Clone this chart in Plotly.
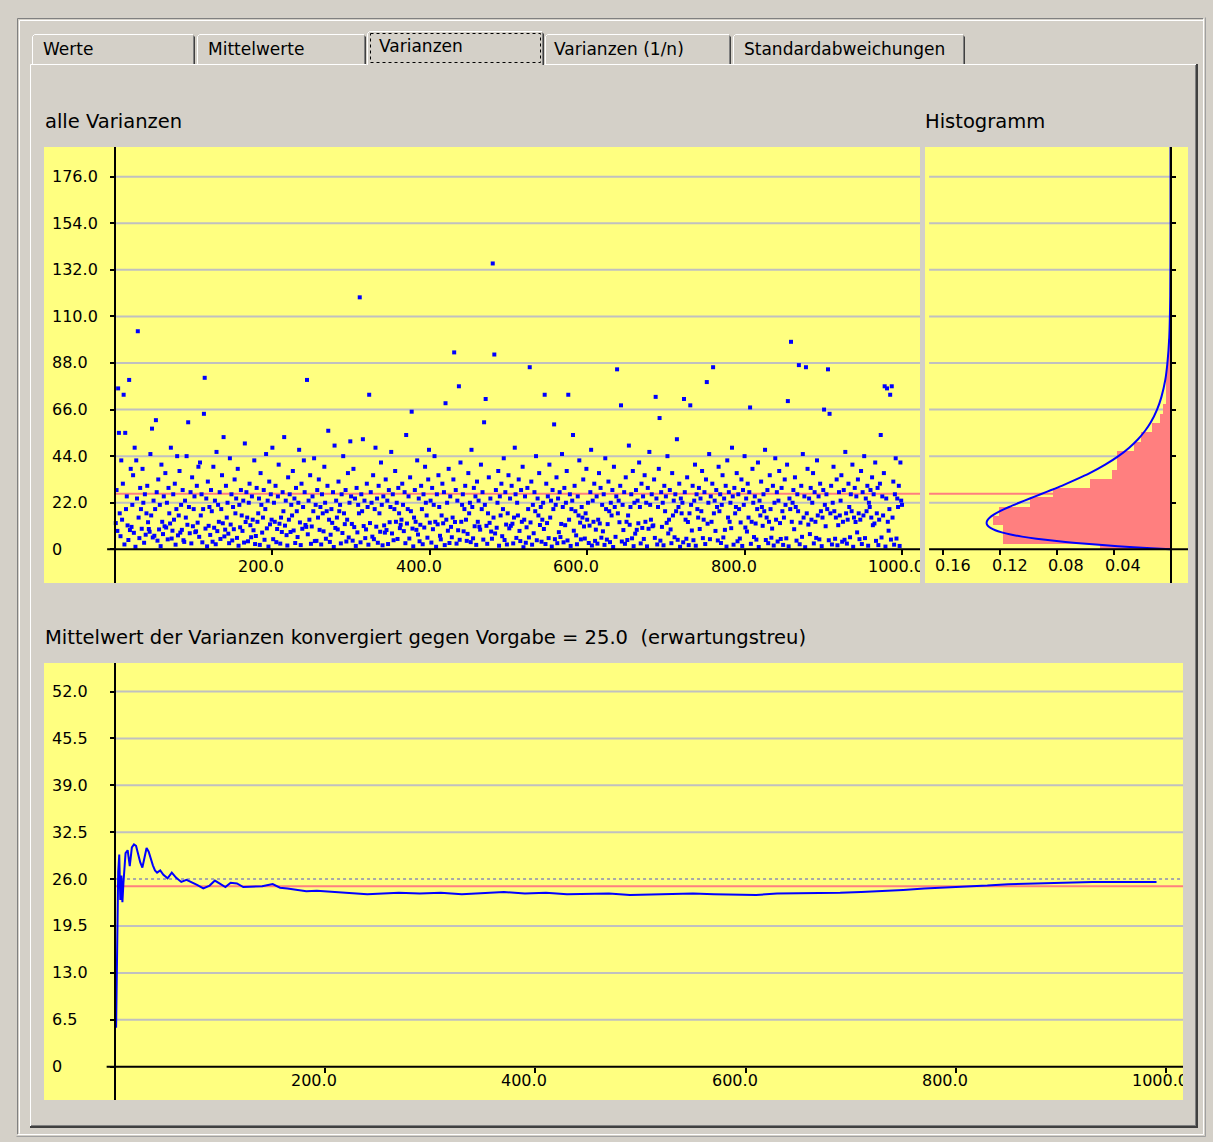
import plotly.graph_objects as go

W, H = 1213, 1142

# ---------------- data ----------------
TAB_LABELS = ["Werte", "Mittelwerte", "Varianzen", "Varianzen (1/n)", "Standardabweichungen"]
SELECTED_TAB = 2

TITLE_TOP = "alle Varianzen"
TITLE_HIST = "Histogramm"
TITLE_BOTTOM = "Mittelwert der Varianzen konvergiert gegen Vorgabe = 25.0\u00a0\u00a0(erwartungstreu)"

VARIANZEN = [
    12.4, 28, 8.7, 76, 55, 17, 6.2, 42, 14, 31, 73, 2.3, 55, 19, 25, 11.3, 4.4, 80, 9.1, 38,
    10.6, 21, 35, 7.8, 48, 1.2, 42, 24, 103, 15, 5.3, 29, 19, 9.7, 38, 22, 3.1, 26, 6.9, 17,
    30, 12.8, 9.6, 8.3, 45, 16, 57, 5.6, 23, 6.4, 19, 61, 27, 4.1, 33, 9.4, 21, 1.5, 40, 13,
    7.2, 25, 10.9, 36, 10.3, 22, 4.7, 29, 17, 12.2, 48, 5.1, 8.8, 26, 14, 31, 2.2, 19, 44, 6.6,
    16, 37, 7.9, 21, 9.2, 28, 4.3, 3.5, 23, 15, 44, 11.6, 60, 20, 7.6, 27, 2.8, 34, 10.9, 19,
    25, 8.1, 8.5, 30, 12.6, 39, 5.9, 41, 16, 26, 3.3, 19, 64, 81, 9.8, 24, 1.4, 32, 11.1, 20,
    6.8, 28, 18, 3.6, 39, 10.2, 23, 2.4, 46, 8.6, 21, 13, 27, 4.9, 19, 35, 12.3, 53, 6.1, 9.3,
    30, 15, 22, 7.4, 2.9, 43, 11.7, 26, 4.2, 20, 9.5, 33, 17, 24, 5.4, 38, 1.7, 21, 10.4, 28,
    16, 8.7, 23, 3.2, 50, 12.9, 27, 15, 3.8, 22, 31, 11.4, 5.7, 25, 14, 9.0, 42, 2.5, 6.3, 29,
    13, 17, 24, 2.1, 36, 21, 7.9, 15, 28, 4.5, 19, 45, 9.9, 23, 1.3, 32, 11.8, 26, 14, 48,
    4.8, 22, 13, 30, 3.4, 9.6, 25, 40, 12.1, 2.7, 15, 8.2, 27, 18, 53, 11.2, 23, 6.7, 1.8, 34,
    14, 26, 8.2, 21, 16, 37, 8.9, 24, 3.0, 29, 18, 5.8, 22, 47, 12.7, 2.0, 31, 9.7, 20, 42,
    27, 11.5, 10.6, 80, 7.1, 23, 14, 35, 2.6, 10.8, 25, 18, 43, 3.9, 21, 4.0, 28, 15, 33, 9.2,
    20, 2.3, 26, 17, 8.5, 39, 22, 5.0, 18, 30, 56, 14, 3.5, 6.9, 19, 12.5, 27, 1.1, 49, 10.1,
    23, 15, 9.4, 32, 18, 21, 2.8, 26, 7.7, 44, 17, 11.9, 28, 3.7, 14, 36, 5.6, 22, 51, 25,
    12.0, 4.1, 38, 10.5, 24, 1.6, 29, 8.0, 21, 17, 119, 3.3, 26, 18, 52, 11.0, 23, 5.3, 9.4, 31,
    20, 2.2, 73, 12.4, 27, 22, 6.0, 35, 4.8, 19, 48, 10.7, 24, 3.1, 30, 17, 8.3, 41, 21, 1.9,
    25, 11.3, 7.9, 33, 9.1, 23, 2.5, 28, 12.8, 20, 46, 7.5, 26, 4.3, 19, 37, 13, 22, 4.9, 29,
    17, 10.0, 11.6, 14, 31, 21, 8.6, 27, 2.9, 54, 12.2, 19, 25, 5.1, 34, 18, 65, 9.8, 1.4, 15,
    28, 13, 9.2, 42, 7.0, 24, 3.8, 11.6, 30, 19, 2.4, 26, 10.3, 39, 22, 16, 5.5, 33, 47, 12.6,
    23, 3.2, 29, 9.5, 21, 44, 13, 1.2, 26, 11.8, 35, 20, 6.4, 4.7, 16, 31, 12.3, 27, 2.0, 69,
    14, 22, 8.8, 38, 3.0, 25, 10.6, 5.7, 15, 33, 93, 12.9, 28, 2.7, 23, 9.0, 77, 4.5, 41, 13,
    21, 26, 8.5, 19, 30, 14, 4.0, 7.3, 36, 17, 22, 3.4, 47, 20, 5.2, 29, 10.9, 25, 2.1, 32,
    13, 23, 10.7, 9.3, 40, 19, 27, 4.6, 60, 21, 71, 11.1, 2.6, 17, 34, 12.5, 24, 8.4, 5.0, 135,
    15, 92, 7.5, 28, 10.2, 22, 37, 1.7, 25, 16, 31, 6.2, 19, 43, 4.4, 27, 11.7, 2.3, 17, 35,
    9.9, 24, 11.1, 30, 12.1, 2.8, 15, 48, 26, 5.4, 22, 16, 33, 8.7, 3.9, 28, 13, 39, 1.0, 14,
    25, 3.1, 10.4, 29, 19, 5.6, 86, 12.7, 32, 2.2, 21, 7.6, 27, 18, 44, 4.3, 24, 16, 36, 11.5,
    20, 3.6, 14, 22, 9.6, 73, 2.5, 31, 12.4, 25, 5.3, 40, 15, 23, 1.3, 28, 19, 59, 4.8, 21,
    34, 2.9, 24, 8.1, 27, 5.8, 12.0, 45, 20, 3.3, 29, 11.4, 22, 37, 4.2, 73, 14, 26, 1.6, 19,
    23, 54, 8.8, 30, 18, 6.6, 2.4, 25, 16, 42, 12.6, 4.7, 20, 15, 33, 10.8, 5.1, 17, 38, 14,
    22, 3.0, 11.2, 27, 47, 1.8, 23, 13, 31, 4.0, 9.3, 25, 2.7, 14, 36, 12.2, 29, 5.5, 21, 8.5,
    26, 2.1, 43, 19, 4.6, 11.9, 32, 18, 3.4, 22, 16, 28, 1.1, 39, 20, 5.9, 25, 85, 17, 23,
    12.8, 30, 68, 3.7, 21, 9.1, 27, 2.6, 34, 13, 4.4, 16, 49, 11.6, 20, 26, 5.2, 37, 1.5, 22,
    7.4, 28, 9.2, 23, 12.3, 41, 20, 2.8, 31, 10.1, 25, 4.9, 35, 13, 22, 1.4, 29, 9.7, 46, 21,
    14, 26, 10.9, 11.3, 33, 5.4, 72, 24, 2.3, 20, 38, 62, 4.1, 27, 10.6, 22, 1.9, 30, 18, 25,
    12.5, 44, 7.5, 14, 28, 9.4, 2.9, 36, 16, 23, 5.7, 26, 18, 52, 4.5, 20, 31, 1.2, 24, 17,
    22, 3.3, 71, 27, 14, 5.0, 34, 12.9, 2.0, 17, 68, 21, 8.9, 30, 4.3, 23, 40, 1.7, 26, 19,
    15, 29, 9.6, 24, 18, 37, 5.3, 14, 27, 2.5, 33, 79, 12.1, 22, 45, 4.8, 25, 13, 31, 86,
    17, 23, 8.7, 28, 20, 4.2, 39, 18, 26, 3.0, 21, 35, 5.6, 24, 9.2, 30, 1.3, 42, 15, 27,
    13, 22, 10.0, 48, 25, 2.2, 29, 17, 20, 36, 3.8, 26, 19, 5.1, 12.7, 33, 1.6, 28, 21, 44,
    10.3, 24, 8.4, 31, 15, 27, 67, 2.6, 13, 38, 22, 5.8, 25, 12.2, 4.6, 19, 41, 1.1, 23, 16,
    32, 20, 11.1, 26, 18, 47, 4.4, 15, 28, 2.9, 13, 35, 19, 5.5, 9.8, 30, 1.8, 22, 43, 14,
    27, 3.7, 23, 37, 12.4, 4.9, 29, 18, 2.1, 15, 33, 21, 5.2, 40, 70, 1.4, 24, 19, 98, 13,
    22, 28, 9.5, 34, 20, 4.1, 26, 18, 87, 2.4, 12.6, 30, 5.9, 45, 15, 25, 1.0, 86, 17, 38,
    11.7, 24, 7.2, 29, 14, 22, 36, 2.8, 27, 13, 5.4, 42, 16, 25, 4.7, 31, 18, 1.5, 15, 28,
    66, 21, 10.9, 26, 19, 85, 4.3, 64, 17, 30, 2.3, 22, 39, 18, 5.0, 15, 33, 1.9, 11.4, 27,
    16, 23, 35, 3.6, 13, 28, 4.5, 46, 17, 2.7, 14, 31, 20, 5.7, 26, 18, 40, 1.2, 15, 29,
    12.9, 25, 8.0, 33, 17, 4.8, 14, 37, 2.5, 27, 16, 44, 5.3, 24, 18, 30, 1.7, 22, 20, 28,
    15, 34, 11.4, 26, 12.2, 41, 4.0, 17, 29, 2.0, 14, 31, 54, 5.6, 25, 16, 36, 77, 1.3, 24,
    76, 13, 8.8, 19, 73, 4.6, 77, 15, 32, 2.2, 26, 43, 5.1, 24, 20, 30, 1.6, 41, 23, 21,
]
INDEX = list(range(1, len(VARIANZEN) + 1))

MITTEL_TOP = 26.3      # red line in the upper charts
VORGABE = 25.0         # red line in the lower chart

TOP_Y_TICKS = [0, 22, 44, 66, 88, 110, 132, 154, 176]
TOP_X_TICKS = [200, 400, 600, 800, 1000]
HIST_X_TICKS = [0.16, 0.12, 0.08, 0.04]
BOT_Y_TICKS = [0, 6.5, 13, 19.5, 26, 32.5, 39, 45.5, 52]
BOT_X_TICKS = [200, 400, 600, 800, 1000]

HIST_EDGES = [0, 2.5, 6.9, 11.3, 15.7, 20.1, 24.5, 28.9, 33.3, 37.7, 42.1, 46.5, 50.9,
              55.3, 59.7, 64.1, 68.5, 72.9, 77.3, 81.7, 86.1, 90.5, 94.9, 99.3]
HIST_FREQ = [0.050, 0.118, 0.118, 0.125, 0.121, 0.099, 0.083, 0.057, 0.041, 0.038,
             0.038, 0.026, 0.021, 0.013, 0.0074, 0.005, 0.0035, 0.003, 0.003, 0.0025,
             0.002, 0.002, 0.0015]

DENS_V = [0, 0.5, 1, 2, 3, 4, 5, 6, 7, 8, 9, 10, 11, 12, 13, 14, 15, 16, 18, 20, 22, 24,
          26, 28, 30, 33, 36, 40, 44, 48, 52, 56, 60, 66, 72, 80, 88, 100, 120, 150, 190]
DENS_P = [0, 0.0135, 0.026, 0.048, 0.0665, 0.0818, 0.0944, 0.1046, 0.1126, 0.1188,
          0.1234, 0.1265, 0.1285, 0.1294, 0.1294, 0.1286, 0.1272, 0.1253, 0.1201,
          0.1137, 0.1066, 0.0991, 0.0915, 0.0840, 0.0766, 0.0664, 0.0569, 0.0460,
          0.0367, 0.0291, 0.0229, 0.0179, 0.0139, 0.0095, 0.0064, 0.0037, 0.0022,
          0.0009, 0.0002, 0.0, 0.0]

MEAN_N = [1, 2, 3, 4, 5, 6, 7, 8, 9, 10, 12, 14, 16, 18, 20, 22, 24, 26, 28, 30, 32, 34,
          36, 38, 40, 43, 46, 50, 54, 58, 63, 68, 73, 78, 84, 90, 95, 100, 105, 110, 116,
          122, 130, 140, 150, 157, 164, 173, 182, 192, 200, 212, 225, 240, 255, 270, 290,
          310, 330, 350, 370, 390, 410, 430, 450, 470, 490, 510, 530, 550, 570, 590, 610,
          630, 650, 670, 690, 710, 730, 750, 770, 790, 810, 830, 850, 870, 890, 910, 930,
          950, 970, 991]
MEAN_V = [5.4, 17.6, 27.0, 29.4, 23.1, 26.5, 22.8, 25.5, 28.0, 29.6, 30.0, 27.8, 30.4,
          30.8, 30.6, 29.4, 28.3, 27.6, 28.8, 30.3, 29.8, 28.7, 27.9, 27.2, 26.9, 27.2,
          26.6, 26.1, 26.9, 26.2, 25.6, 25.9, 25.6, 25.2, 24.7, 25.1, 25.8, 25.4, 24.9,
          25.5, 25.4, 24.9, 24.95, 25.0, 25.3, 24.8, 24.7, 24.5, 24.3, 24.4, 24.3, 24.2,
          24.0, 23.9, 24.0, 24.1, 24.0, 24.1, 23.9, 24.0, 24.2, 24.0, 24.1, 23.9, 23.9,
          24.0, 23.8, 23.9, 24.0, 24.0, 23.9, 23.9, 23.8, 24.0, 24.0, 24.1, 24.1, 24.2,
          24.3, 24.5, 24.7, 24.8, 25.0, 25.1, 25.3, 25.4, 25.4, 25.5, 25.6, 25.6, 25.6,
          25.6]

# ---------------- styling ----------------
BG = "#d4d0c8"
YELLOW = "#ffff80"
BLUE = "#0000ff"
SALMON = "#ff7f7f"
GRID = "#c0c0c0"
FONT = "DejaVu Sans"


def PX(x):
    return x / W


def PY(y):
    return 1 - y / H


# axis ranges (from pixel calibration)
XR1 = [-90.2, 1022.9]
YR1 = [-15.9, 190.0]
XR2 = [0.1729, -0.0123]
XR3 = [-67.6, 1016.2]
YR3 = [-4.62, 55.95]

fig = go.Figure()

fig.add_trace(go.Scatter(
    x=INDEX, y=VARIANZEN, mode="markers", xaxis="x", yaxis="y",
    marker=dict(symbol="square", size=4, color=BLUE, line=dict(width=0)),
    hoverinfo="skip", showlegend=False))

centers = [(a + b) / 2 for a, b in zip(HIST_EDGES[:-1], HIST_EDGES[1:])]
widths = [b - a for a, b in zip(HIST_EDGES[:-1], HIST_EDGES[1:])]
fig.add_trace(go.Bar(
    x=HIST_FREQ, y=centers, width=widths, orientation="h", base=0,
    xaxis="x2", yaxis="y2", marker=dict(color=SALMON, line=dict(width=0)),
    hoverinfo="skip", showlegend=False))
fig.add_trace(go.Scatter(
    x=DENS_P, y=DENS_V, mode="lines", xaxis="x2", yaxis="y2",
    line=dict(color=BLUE, width=2, shape="spline", smoothing=0.6),
    hoverinfo="skip", showlegend=False))

fig.add_trace(go.Scatter(
    x=MEAN_N, y=MEAN_V, mode="lines", xaxis="x3", yaxis="y3",
    line=dict(color=BLUE, width=2), hoverinfo="skip", showlegend=False))

top_dom_y = [PY(583), PY(147)]
bot_dom_y = [PY(1100), PY(663)]

common = dict(showgrid=False, zeroline=False, showticklabels=False,
              ticks="outside", tickcolor="black", tickwidth=2, fixedrange=True)

fig.update_layout(
    width=W, height=H, margin=dict(l=0, r=0, t=0, b=0),
    paper_bgcolor=BG, plot_bgcolor=YELLOW, showlegend=False,
    bargap=0,
    xaxis=dict(domain=[PX(44), PX(920)], range=XR1, anchor="free", position=PY(549.3),
               tickvals=TOP_X_TICKS, ticklen=5, showline=False, **common),
    yaxis=dict(domain=top_dom_y, range=YR1, anchor="free", position=PX(115),
               tickvals=TOP_Y_TICKS, ticklen=4, showline=True, linecolor="black",
               linewidth=2, **common),
    xaxis2=dict(domain=[PX(925), PX(1188)], range=XR2, anchor="free", position=PY(549.3),
                tickvals=HIST_X_TICKS, ticklen=5, showline=False, **common),
    yaxis2=dict(domain=top_dom_y, range=YR1, anchor="free", position=PX(1170.5),
                side="right", tickvals=TOP_Y_TICKS[1:], ticklen=4, showline=True,
                linecolor="black", linewidth=2, **common),
    xaxis3=dict(domain=[PX(44), PX(1183)], range=XR3, anchor="free", position=PY(1066.7),
                tickvals=BOT_X_TICKS, ticklen=5, showline=False, **common),
    yaxis3=dict(domain=bot_dom_y, range=YR3, anchor="free", position=PX(115),
                tickvals=BOT_Y_TICKS, ticklen=4, showline=True, linecolor="black",
                linewidth=2, **common),
)

shapes = []


def pline(x0, y0, x1, y1, color, width=1, dash=None):
    d = dict(type="line", xref="paper", yref="paper", x0=PX(x0), y0=PY(y0),
             x1=PX(x1), y1=PY(y1), line=dict(color=color, width=width), layer="above")
    if dash:
        d["line"]["dash"] = dash
    shapes.append(d)


# outer etched frame
pline(17.5, 18.5, 1203.5, 18.5, "#808080")
pline(17.5, 18.5, 17.5, 1134.5, "#808080")
pline(19.5, 20.5, 1203.5, 20.5, "#ffffff")
pline(19.5, 20.5, 19.5, 1133.5, "#ffffff")
pline(1203.5, 18.5, 1203.5, 1134.5, "#ffffff")
pline(17.5, 1134.5, 1203.5, 1134.5, "#ffffff")
pline(1205.5, 17.5, 1205.5, 1136.5, "#a0a0a0")
pline(16.5, 1136.5, 1205.5, 1136.5, "#a0a0a0")

# tab page panel
TAB_X = [(32, 195), (197, 366), (367, 544), (545, 731), (733, 965)]
sel_l, sel_r = TAB_X[SELECTED_TAB]
pline(30.5, 64.5, sel_l - 0.5, 64.5, "#ffffff")
pline(sel_r + 0.5, 64.5, 1197, 64.5, "#ffffff")
pline(30.5, 64.5, 30.5, 1126.5, "#ffffff")
pline(1195.5, 65, 1195.5, 1125.5, "#808080")
pline(1197, 64, 1197, 1127.5, "#404040", 2)
pline(31, 1125.5, 1196, 1125.5, "#808080")
pline(30, 1127, 1198, 1127, "#404040", 2)

# tabs
for i, (l, r) in enumerate(TAB_X):
    top = 31.5 if i == SELECTED_TAB else 34.5
    bot = 65 if i == SELECTED_TAB else 64
    path = (f"M {PX(l + 0.5)},{PY(bot)} L {PX(l + 0.5)},{PY(top + 2)} "
            f"L {PX(l + 2.5)},{PY(top)} L {PX(r - 2)},{PY(top)}")
    shapes.append(dict(type="path", xref="paper", yref="paper", path=path,
                       line=dict(color="#ffffff", width=1), layer="above"))
    pline(r - 1.5, top + 1, r - 1.5, bot, "#808080")
    pline(r - 0.5, top + 2, r - 0.5, bot, "#404040")

# focus rectangle on selected tab
shapes.append(dict(type="rect", xref="paper", yref="paper",
                   x0=PX(sel_l + 3.5), x1=PX(sel_r - 3.5), y0=PY(33.5), y1=PY(62.5),
                   line=dict(color="#000000", width=1, dash="dot"), layer="above"))

# gridlines, reference lines, axis lines
for v in TOP_Y_TICKS[1:]:
    shapes.append(dict(type="line", xref="x", yref="y", x0=0, x1=XR1[1], y0=v, y1=v,
                       line=dict(color=GRID, width=2), layer="below"))
    shapes.append(dict(type="line", xref="x2", yref="y2", x0=0.170, x1=0, y0=v, y1=v,
                       line=dict(color=GRID, width=2), layer="below"))
for v in BOT_Y_TICKS[1:]:
    dash = "dot" if v == 26 else None
    ln = dict(color="#a8a8a8" if dash else GRID, width=2)
    if dash:
        ln["dash"] = dash
    shapes.append(dict(type="line", xref="x3", yref="y3", x0=0, x1=XR3[1], y0=v, y1=v,
                       line=ln, layer="below"))

shapes.append(dict(type="line", xref="x", yref="y", x0=0, x1=XR1[1], y0=MITTEL_TOP,
                   y1=MITTEL_TOP, line=dict(color=SALMON, width=2), layer="below"))
shapes.append(dict(type="line", xref="x2", yref="y2", x0=0.170, x1=0, y0=MITTEL_TOP,
                   y1=MITTEL_TOP, line=dict(color=SALMON, width=2), layer="below"))
shapes.append(dict(type="line", xref="x3", yref="y3", x0=0, x1=XR3[1], y0=VORGABE,
                   y1=VORGABE, line=dict(color=SALMON, width=2), layer="below"))

# horizontal axis lines
shapes.append(dict(type="line", xref="x", yref="y", x0=-10, x1=XR1[1], y0=0, y1=0,
                   line=dict(color="black", width=2), layer="above"))
shapes.append(dict(type="line", xref="x2", yref="y2", x0=0.170, x1=XR2[1], y0=0, y1=0,
                   line=dict(color="black", width=2), layer="above"))
shapes.append(dict(type="line", xref="x3", yref="y3", x0=-8, x1=XR3[1], y0=0, y1=0,
                   line=dict(color="black", width=2), layer="above"))

fig.update_layout(shapes=shapes)

ann = []
TF = dict(family=FONT, size=16, color="black")


def fmt(v):
    return "0" if v == 0 else f"{v:.1f}"


for v in TOP_Y_TICKS:
    ann.append(dict(xref="paper", yref="y", x=PX(51), y=v, text=fmt(v), showarrow=False,
                    xanchor="left", yanchor="middle", font=TF, borderpad=0))
for v in BOT_Y_TICKS:
    ann.append(dict(xref="paper", yref="y3", x=PX(51), y=v, text=fmt(v), showarrow=False,
                    xanchor="left", yanchor="middle", font=TF, borderpad=0))
for v in TOP_X_TICKS:
    d = dict(xref="x", yref="paper", x=v, y=PY(566), text=fmt(v), showarrow=False,
             xanchor="left", yanchor="middle", xshift=-35, font=TF, borderpad=0,
             align="left")
    if v == 1000:
        d["width"] = 52
    ann.append(d)
for v in BOT_X_TICKS:
    d = dict(xref="x3", yref="paper", x=v, y=PY(1080.5), text=fmt(v), showarrow=False,
             xanchor="left", yanchor="middle", xshift=-35, font=TF, borderpad=0,
             align="left")
    if v == 1000:
        d["width"] = 51
    ann.append(d)
for v in HIST_X_TICKS:
    ann.append(dict(xref="x2", yref="paper", x=v, y=PY(565), text=f"{v:.2f}",
                    showarrow=False, xanchor="left", yanchor="middle", xshift=-9.5,
                    font=TF, borderpad=0))

HF = dict(family=FONT, size=19.5, color="#000000")
ann.append(dict(xref="paper", yref="paper", x=PX(44), y=PY(121), text=TITLE_TOP,
                showarrow=False, xanchor="left", yanchor="middle", font=HF, borderpad=0))
ann.append(dict(xref="paper", yref="paper", x=PX(924), y=PY(121), text=TITLE_HIST,
                showarrow=False, xanchor="left", yanchor="middle", font=HF, borderpad=0))
ann.append(dict(xref="paper", yref="paper", x=PX(44), y=PY(637), text=TITLE_BOTTOM,
                showarrow=False, xanchor="left", yanchor="middle", font=HF, borderpad=0))

TAB_FONT = dict(family=FONT, size=17, color="black")
TAB_TEXT_X = [42, 207, 378, 553, 743]
for i, lab in enumerate(TAB_LABELS):
    ann.append(dict(xref="paper", yref="paper", x=PX(TAB_TEXT_X[i]),
                    y=PY(46 if i == SELECTED_TAB else 49), text=lab, showarrow=False,
                    xanchor="left", yanchor="middle", font=TAB_FONT, borderpad=0))

fig.update_layout(annotations=ann)

fig.write_html("out.html", config={"displayModeBar": False, "staticPlot": True},
               post_script="document.body.style.margin='0';document.body.style.overflow='hidden';")
